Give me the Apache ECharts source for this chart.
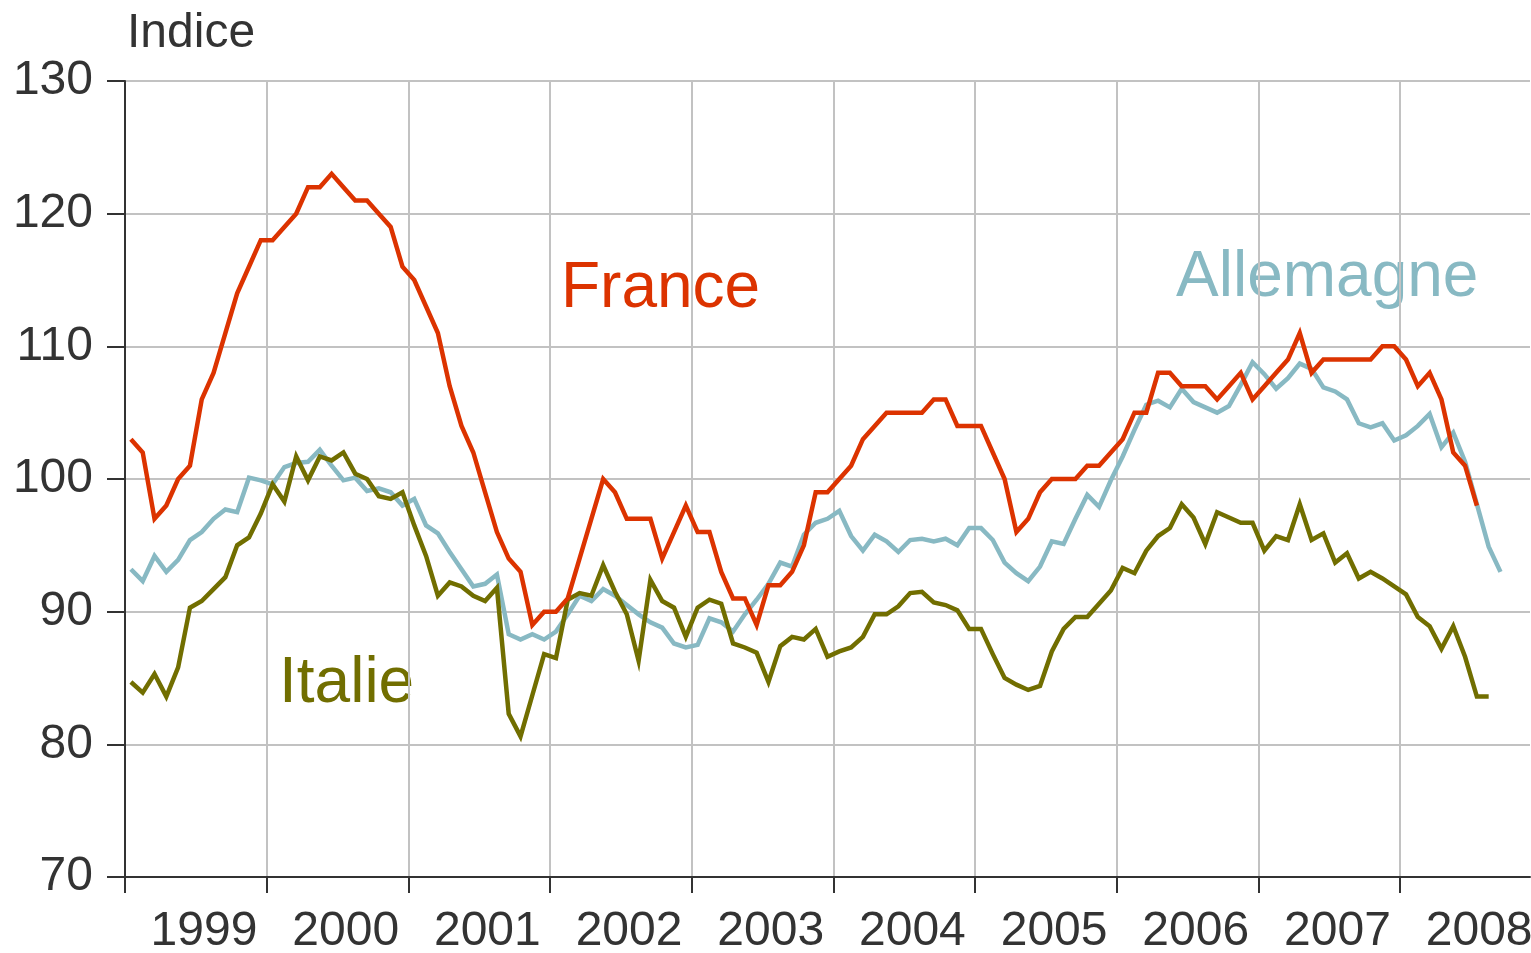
<!DOCTYPE html>
<html>
<head>
<meta charset="utf-8">
<script src="https://cdn.jsdelivr.net/npm/echarts@6/dist/echarts.min.js"></script>
<style>
html,body{margin:0;padding:0;background:#fff;}
#chart{width:1531px;height:953px;}
</style>
</head>
<body>
<div id="chart"></div>
<script>
// Monthly index values, January 1999 onwards (month index 0 = Jan 1999)
const years = ['1999','2000','2001','2002','2003','2004','2005','2006','2007','2008'];
const yTicks = [70, 80, 90, 100, 110, 120, 130];

const france = [
  103,102,97,98,100,101,106,108,111,114,116,118,
  118,119,120,122,122,123,122,121,121,120,119,116,
  115,113,111,107,104,102,99,96,94,93,89,90,
  90,91,94,97,100,99,97,97,97,94,96,98,
  96,96,93,91,91,89,92,92,93,95,99,99,
  100,101,103,104,105,105,105,105,106,106,104,104,
  104,102,100,96,97,99,100,100,100,101,101,102,
  103,105,105,108,108,107,107,107,106,107,108,106,
  107,108,109,111,108,109,109,109,109,109,110,110,
  109,107,108,106,102,101,98
];

const allemagne = [
  93.2,92.3,94.2,93.0,93.9,95.4,96.0,97.0,97.7,97.5,100.1,99.9,
  99.6,100.9,101.2,101.3,102.2,101.0,99.9,100.1,99.1,99.3,99.0,98.0,
  98.5,96.5,95.9,94.5,93.2,91.9,92.1,92.8,88.3,87.9,88.3,87.9,
  88.5,89.8,91.2,90.8,91.7,91.2,90.5,89.8,89.2,88.8,87.6,87.3,
  87.5,89.5,89.2,88.5,89.8,90.9,92.1,93.7,93.4,95.8,96.7,97.0,
  97.6,95.7,94.6,95.8,95.3,94.5,95.4,95.5,95.3,95.5,95.0,96.3,
  96.3,95.4,93.7,92.9,92.3,93.4,95.3,95.1,97.0,98.8,97.9,99.9,
  101.7,103.7,105.6,105.9,105.4,106.8,105.8,105.4,105.0,105.5,107.1,108.8,
  107.9,106.8,107.6,108.7,108.3,106.9,106.6,106.0,104.2,103.9,104.2,102.9,
  103.3,104.0,104.9,102.4,103.5,101.3,98.1,94.9,93.0
];

const italie = [
  84.7,83.9,85.3,83.6,85.8,90.3,90.8,91.7,92.6,95.0,95.6,97.4,
  99.6,98.3,101.7,99.9,101.7,101.4,102.0,100.4,100.0,98.7,98.5,99.0,
  96.5,94.2,91.2,92.2,91.9,91.2,90.8,91.8,82.3,80.6,83.7,86.8,
  86.5,90.9,91.4,91.2,93.5,91.5,89.8,86.3,92.4,90.8,90.3,88.1,
  90.3,90.9,90.6,87.6,87.3,86.9,84.7,87.4,88.1,87.9,88.7,86.6,
  87.0,87.3,88.1,89.8,89.8,90.4,91.4,91.5,90.7,90.5,90.1,88.7,
  88.7,86.8,85.0,84.5,84.1,84.4,87.0,88.7,89.6,89.6,90.6,91.6,
  93.3,92.9,94.6,95.7,96.3,98.1,97.1,95.1,97.5,97.1,96.7,96.7,
  94.6,95.7,95.4,98.1,95.4,95.9,93.7,94.4,92.5,93.0,92.5,91.9,
  91.3,89.6,88.9,87.2,88.9,86.6,83.6,83.6
];

const toPoints = arr => arr.map((v, i) => [i + 0.5, v]);
const yearTickValues = years.map((y, i) => i * 12);
const monthsShown = 119;

const FONT = 'Liberation Sans, Arial, Helvetica, sans-serif';
const axisColor = '#333333';
const gridColor = '#c2c2c2';

const chart = echarts.init(document.getElementById('chart'), null, {renderer: 'canvas'});
chart.setOption({
  animation: false,
  backgroundColor: '#ffffff',
  grid: {left: 125, right: 1, top: 81, bottom: 76, containLabel: false, outerBoundsMode: 'none'},
  xAxis: {
    type: 'value',
    min: 0,
    max: monthsShown,
    interval: 12,
    axisLine: {show: true, onZero: false, lineStyle: {color: axisColor, width: 2}},
    axisTick: {show: true, length: 16, inside: false, lineStyle: {color: axisColor, width: 2},
               customValues: yearTickValues},
    splitLine: {show: true, lineStyle: {color: gridColor, width: 2}},
    axisLabel: {
      customValues: yearTickValues,
      formatter: v => years[Math.round(v / 12)] || '',
      color: '#333333',
      fontFamily: FONT,
      fontSize: 48,
      margin: 31,
      align: 'center',
      padding: [0, 0, 0, 158]
    }
  },
  yAxis: {
    type: 'value',
    min: yTicks[0],
    max: yTicks[yTicks.length - 1],
    interval: 10,
    axisLine: {show: true, lineStyle: {color: axisColor, width: 2}},
    axisTick: {show: true, length: 18, lineStyle: {color: axisColor, width: 2}},
    splitLine: {show: true, lineStyle: {color: gridColor, width: 2}},
    axisLabel: {color: '#333333', fontFamily: FONT, fontSize: 48, margin: 32}
  },
  graphic: [
    {type: 'text', z: -10, left: 127, top: 10,
     style: {text: 'Indice', font: '48px ' + FONT, fill: '#333333'}},
    {type: 'text', z: -10, left: 561, top: 257,
     style: {text: 'France', font: '64px ' + FONT, fill: '#dc3300'}},
    {type: 'text', z: -10, left: 1176, top: 246,
     style: {text: 'Allemagne', font: '64px ' + FONT, fill: '#88b9c3'}},
    {type: 'text', z: -10, left: 279, top: 652,
     style: {text: 'Italie', font: '64px ' + FONT, fill: '#716e00'}}
  ],
  series: [
    {name: 'Allemagne', type: 'line', data: toPoints(allemagne), showSymbol: false, symbol: 'none',
     lineStyle: {color: '#88b9c3', width: 4.5, join: 'miter'}, z: 3},
    {name: 'Italie', type: 'line', data: toPoints(italie), showSymbol: false, symbol: 'none',
     lineStyle: {color: '#716e00', width: 4.5, join: 'miter'}, z: 4},
    {name: 'France', type: 'line', data: toPoints(france), showSymbol: false, symbol: 'none',
     lineStyle: {color: '#dc3300', width: 4.5, join: 'miter'}, z: 5}
  ]
});
</script>
</body>
</html>
